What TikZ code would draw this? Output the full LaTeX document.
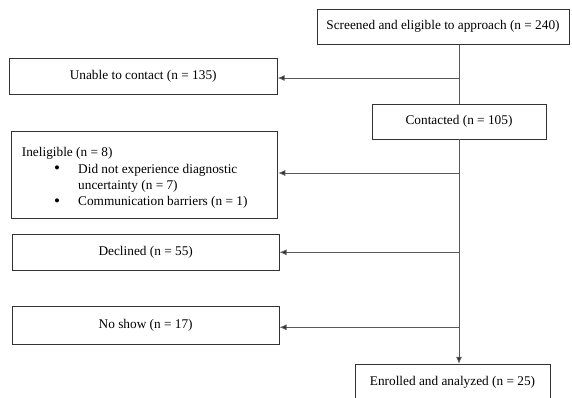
\documentclass[tikz,border=0pt]{standalone}
\usepackage{fontspec}
\setmainfont{Liberation Serif}
\usetikzlibrary{arrows.meta}
\begin{document}
\begin{tikzpicture}[x=1pt,y=-1pt,
  txt/.style={font=\fontsize{13.3}{15}\selectfont},
  box/.style={draw=black!80, line width=0.9pt, inner sep=0pt, txt},
  conn/.style={draw=black!65, line width=0.9pt},
  arr/.style={conn, -{Latex[length=7pt,width=6pt,fill=black!85]}}]
\useasboundingbox[fill=white] (0,0) rectangle (572,398);
\node[box, minimum width=252pt, minimum height=35pt] (screen) at (443,26.8) {Screened and eligible to approach (n = 240)};
\node[box, minimum width=268pt, minimum height=36pt] (unable) at (143.2,76.3) {Unable to contact (n = 135)};
\node[box, minimum width=174pt, minimum height=34.7pt] (contact) at (459,121.7) {Contacted (n = 105)};
\node[box, minimum width=266pt, minimum height=86.6pt] (inelig) at (144.8,175) {};
\node[box, minimum width=266.7pt, minimum height=36.7pt] (declined) at (145.7,252.3) {Declined (n = 55)};
\node[box, minimum width=266.7pt, minimum height=37.6pt] (noshow) at (145.7,325.5) {No show (n = 17)};
\node[box, minimum width=195pt, minimum height=37pt] (enrolled) at (452.5,382.8) {Enrolled and analyzed (n = 25)};
% ineligible text
\begin{scope}[every node/.style={txt, inner sep=0pt, anchor=base west}]
\node (t0) at (21.7,156.5) {Ineligible (n = 8)};
\node[font=\fontsize{17}{17}\selectfont] (b1) at (54,173.5) {•};
\node (t1) at (78,173) {Did not experience diagnostic};
\node (t2) at (78,189.5) {uncertainty (n = 7)};
\node[font=\fontsize{17}{17}\selectfont] (b2) at (54,206) {•};
\node (t3) at (78,205.5) {Communication barriers (n = 1)};
\end{scope}
% spine
\coordinate (j1) at (459,78);
\coordinate (j2) at (459,173);
\coordinate (j3) at (459,252.3);
\coordinate (j4) at (459,327.3);
\draw[conn] (screen.south -| j1) -- (contact.north);
\draw[arr] (j1) -- (j1 -| unable.east);
\draw[arr] (contact.south) -- (enrolled.north -| contact.south);
\draw[arr] (j2) -- (j2 -| inelig.east);
\draw[arr] (j3) -- (j3 -| declined.east);
\draw[arr] (j4) -- (j4 -| noshow.east);
\end{tikzpicture}
\end{document}
